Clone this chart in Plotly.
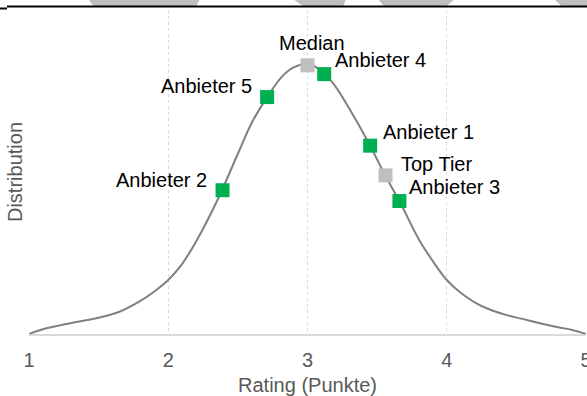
import plotly.graph_objects as go

# Density curve of ratings (relative density)
curve_x = [1.0, 1.1, 1.2, 1.35, 1.5, 1.65, 1.8, 1.9, 2.0, 2.1, 2.2, 2.35, 2.5,
           2.6, 2.71, 2.82, 2.9, 3.0, 3.1, 3.2, 3.3, 3.45, 3.56, 3.66, 3.8, 3.9,
           4.0, 4.1, 4.2, 4.3, 4.43, 4.55, 4.67, 4.8, 4.9, 5.0]
curve_y = [0.0, 0.007, 0.012, 0.018, 0.024, 0.033, 0.049, 0.063, 0.080, 0.104,
           0.137, 0.197, 0.267, 0.313, 0.351, 0.382, 0.395, 0.400, 0.390, 0.367,
           0.334, 0.279, 0.234, 0.197, 0.140, 0.108, 0.080, 0.061, 0.047, 0.037,
           0.028, 0.022, 0.016, 0.010, 0.006, 0.0]

# Providers placed on the curve
provider_names = ["Anbieter 2", "Anbieter 5", "Anbieter 4", "Anbieter 1", "Anbieter 3"]
provider_x = [2.39, 2.71, 3.12, 3.45, 3.66]
provider_y = [0.213, 0.351, 0.385, 0.279, 0.197]

# Reference points
ref_names = ["Median", "Top Tier"]
ref_x = [3.0, 3.56]
ref_y = [0.398, 0.235]

tick_vals = [1, 2, 3, 4, 5]
tick_text = ["1", "2", "3", "4", "5"]

FONT = "Liberation Sans, Arial, Helvetica, sans-serif"
GREEN = "#00B050"
GREY_MARK = "#BFBFBF"
AXIS_GREY = "#595959"
FS = 20

# label placement: (xanchor, xshift, yshift)
label_pos = {
    "Anbieter 2": ("right", -14, 10),
    "Anbieter 5": ("right", -13, 11),
    "Anbieter 4": ("left", 9, 14),
    "Anbieter 1": ("left", 11, 14),
    "Anbieter 3": ("left", 8, 14),
    "Median": ("center", 4, 22),
    "Top Tier": ("left", 14, 11),
}

fig = go.Figure()
fig.add_trace(go.Scatter(
    x=curve_x, y=curve_y, mode="lines",
    line=dict(color="#808080", width=2, shape="spline", smoothing=1.0),
    hoverinfo="skip", showlegend=False,
))
fig.add_trace(go.Scatter(
    x=ref_x, y=ref_y, mode="markers",
    marker=dict(symbol="square", size=14, color=GREY_MARK, line=dict(width=0)),
    text=ref_names, showlegend=False,
))
fig.add_trace(go.Scatter(
    x=provider_x, y=provider_y, mode="markers",
    marker=dict(symbol="square", size=14, color=GREEN, line=dict(width=0)),
    text=provider_names, showlegend=False,
))

annotations = []
for names, xs, ys in [(provider_names, provider_x, provider_y), (ref_names, ref_x, ref_y)]:
    for n, x, y in zip(names, xs, ys):
        xa, xs_, ys_ = label_pos[n]
        annotations.append(dict(
            x=x, y=y, xref="x", yref="y", text=n, showarrow=False,
            xanchor=xa, yanchor="middle", xshift=xs_, yshift=ys_,
            font=dict(family=FONT, size=FS, color="#000000"),
        ))

# Figure geometry for the decorative header strip
W, H = 587, 396
ML, MR, MT, MB = 29, 1, 10, 62
PW, PH = W - ML - MR, H - MT - MB


def px(xp):
    return (xp - ML) / PW


def py(yp):
    return (H - MB - yp) / PH


shapes = []
for (t0, t1, b0, b1) in [(88, 200, 94, 196), (293, 346, 304, 343),
                         (378, 455, 384, 446), (554, 590, 562, 590)]:
    shapes.append(dict(
        type="path", xref="paper", yref="paper", layer="above",
        path=f"M {px(t0)},{py(-1)} L {px(t1)},{py(-1)} L {px(b1)},{py(6.5)} L {px(b0)},{py(6.5)} Z",
        fillcolor="#BFBFBF", line=dict(width=0),
    ))
shapes.append(dict(type="line", xref="paper", yref="paper",
                   x0=px(7), x1=px(590), y0=py(6.5), y1=py(6.5),
                   line=dict(color="#000000", width=2)))
shapes.append(dict(type="line", xref="paper", yref="paper",
                   x0=px(-2), x1=px(7), y0=py(8.5), y1=py(8.5),
                   line=dict(color="#000000", width=2)))

fig.update_layout(
    width=W, height=H,
    margin=dict(l=ML, r=MR, t=MT, b=MB, autoexpand=False),
    paper_bgcolor="white", plot_bgcolor="white",
    font=dict(family=FONT, color=AXIS_GREY),
    annotations=annotations,
    shapes=shapes,
    xaxis=dict(
        range=[1, 5], tickvals=tick_vals, ticktext=tick_text,
        tickfont=dict(family=FONT, size=FS, color=AXIS_GREY),
        showgrid=True, gridcolor="#D9D9D9", griddash="dot", gridwidth=1,
        showline=True, linecolor="#D9D9D9", linewidth=2,
        zeroline=False, ticks="", ticklabelstandoff=7, automargin=False,
        ticklabeloverflow="allow",
        title=dict(text="Rating (Punkte)", font=dict(family=FONT, size=FS, color=AXIS_GREY),
                   standoff=12),
    ),
    yaxis=dict(
        range=[0, 0.48], showticklabels=False, showgrid=False, zeroline=False,
        showline=False, ticks="", automargin=False,
        title=dict(text="Distribution", font=dict(family=FONT, size=FS, color=AXIS_GREY),
                   standoff=0),
    ),
)

fig.write_html("out.html")
